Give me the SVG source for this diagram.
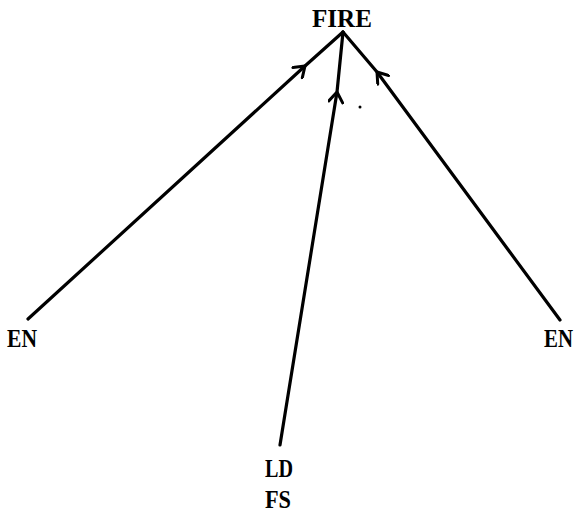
<svg xmlns="http://www.w3.org/2000/svg" width="579" height="515" viewBox="0 0 579 515">
  <style>
    .lbl { font-family: "Liberation Serif", "DejaVu Serif", serif; font-weight: bold; font-size: 25px; fill: #000; }
    .edge { fill: none; stroke: #000; stroke-width: 3.2; stroke-linecap: round; stroke-linejoin: round; }
  </style>
  <defs>
    <marker id="chev" viewBox="-12 -8 14 16" markerWidth="14" markerHeight="16" markerUnits="userSpaceOnUse" orient="auto" refX="0" refY="0">
      <path d="M-10,-7 L0,0 L-10,7" fill="none" stroke="#000" stroke-width="3" stroke-linecap="round" stroke-linejoin="round"/>
    </marker>
  </defs>

  <g id="edges">
    <path class="edge" d="M28,319 L305,66 L343,32" marker-mid="url(#chev)"/>
    <path class="edge" d="M280,445 L337,92 L343,32" marker-mid="url(#chev)"/>
    <path class="edge" d="M560,320 L377,72 L343,32" marker-mid="url(#chev)"/>
  </g>

  <g id="node-fire"><text class="lbl" x="342" y="27" text-anchor="middle" textLength="60" lengthAdjust="spacingAndGlyphs">FIRE</text></g>
  <g id="node-en-left"><text class="lbl" x="7" y="347" textLength="30" lengthAdjust="spacingAndGlyphs">EN</text></g>
  <g id="node-en-right"><text class="lbl" x="544" y="347" textLength="29" lengthAdjust="spacingAndGlyphs">EN</text></g>
  <g id="node-ld-fs">
    <text class="lbl" x="265" y="477" textLength="28" lengthAdjust="spacingAndGlyphs">LD</text>
    <text class="lbl" x="265" y="508" textLength="26" lengthAdjust="spacingAndGlyphs">FS</text>
  </g>
  <circle cx="360" cy="107" r="1.5" fill="#000"/>
</svg>
